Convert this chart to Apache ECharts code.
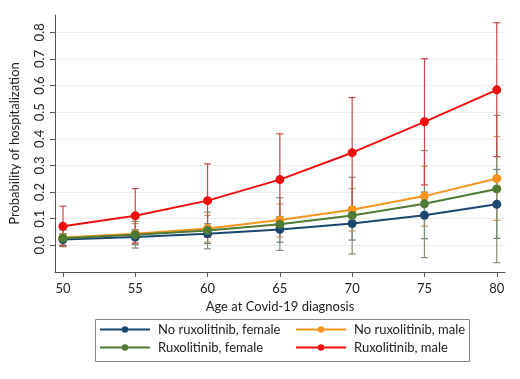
<!DOCTYPE html>
<html>
<head>
<meta charset="utf-8">
<script src="https://cdn.jsdelivr.net/npm/echarts@6/dist/echarts.min.js"></script>
<style>html,body{margin:0;padding:0;background:#fff}#c{width:520px;height:379px}</style>
</head>
<body>
<div id="c"></div>
<script>
// ---- data ----
var ages = [50, 55, 60, 65, 70, 75, 80];
var xTicks = [50, 55, 60, 65, 70, 75, 80];
var yTicks = [0, 0.1, 0.2, 0.3, 0.4, 0.5, 0.6, 0.7, 0.8];

var noRuxFemale     = [0.022, 0.031, 0.044, 0.060, 0.082, 0.113, 0.154];
var noRuxFemaleLow  = [0.000, 0.003, 0.007, 0.012, 0.020, 0.025, 0.026];
var noRuxFemaleHigh = [0.044, 0.059, 0.081, 0.108, 0.144, 0.200, 0.285];

var noRuxMale     = [0.030, 0.044, 0.063, 0.095, 0.134, 0.185, 0.251];
var noRuxMaleLow  = [0.003, 0.006, 0.013, 0.031, 0.054, 0.072, 0.094];
var noRuxMaleHigh = [0.057, 0.082, 0.113, 0.156, 0.213, 0.297, 0.408];

var ruxFemale     = [0.027, 0.040, 0.056, 0.079, 0.112, 0.156, 0.212];
var ruxFemaleLow  = [-0.005, -0.010, -0.013, -0.019, -0.032, -0.046, -0.065];
var ruxFemaleHigh = [0.059, 0.090, 0.125, 0.179, 0.256, 0.356, 0.488];

var ruxMale     = [0.072, 0.111, 0.168, 0.247, 0.348, 0.464, 0.584];
var ruxMaleLow  = [-0.003, 0.009, 0.030, 0.075, 0.141, 0.227, 0.333];
var ruxMaleHigh = [0.147, 0.213, 0.306, 0.419, 0.555, 0.701, 0.836];

var names = ['No ruxolitinib, female', 'No ruxolitinib, male', 'Ruxolitinib, female', 'Ruxolitinib, male'];
var colors = ['#1a476f', '#f7941d', '#4f7a34', '#f00f0f'];
var barColors = ['#5f7890', '#c99a6a', '#7f8f6f', '#c9474a'];

// ---- build ----
var FONT = 'Lato, "Open Sans", sans-serif';
function pairs(vals) { return ages.map(function (a, i) { return [a, vals[i]]; }); }
function triples(lo, hi) { return ages.map(function (a, i) { return [a, lo[i], hi[i]]; }); }

function errSeries(lo, hi, color) {
  return {
    type: 'custom', z: 1, silent: true,
    data: triples(lo, hi),
    encode: { x: 0, y: [1, 2] },
    renderItem: function (params, api) {
      var x = api.value(0);
      var pLo = api.coord([x, api.value(1)]);
      var pHi = api.coord([x, api.value(2)]);
      var hw = 3.5;
      var st = { stroke: color, lineWidth: 1.2 };
      return {
        type: 'group',
        children: [
          { type: 'line', shape: { x1: pLo[0], y1: pLo[1], x2: pHi[0], y2: pHi[1] }, style: st },
          { type: 'line', shape: { x1: pLo[0] - hw, y1: pLo[1], x2: pLo[0] + hw, y2: pLo[1] }, style: st },
          { type: 'line', shape: { x1: pHi[0] - hw, y1: pHi[1], x2: pHi[0] + hw, y2: pHi[1] }, style: st }
        ]
      };
    }
  };
}
function lineSeries(name, vals, color) {
  return {
    name: name, type: 'line', z: 3, data: pairs(vals),
    symbol: 'circle', symbolSize: 9, showSymbol: true,
    lineStyle: { color: color, width: 2 },
    itemStyle: { color: color },
    emphasis: { disabled: true }, animation: false
  };
}

var series = [
  errSeries(noRuxFemaleLow, noRuxFemaleHigh, barColors[0]),
  errSeries(noRuxMaleLow, noRuxMaleHigh, barColors[1]),
  errSeries(ruxFemaleLow, ruxFemaleHigh, barColors[2]),
  errSeries(ruxMaleLow, ruxMaleHigh, barColors[3]),
  lineSeries(names[0], noRuxFemale, colors[0]),
  lineSeries(names[1], noRuxMale, colors[1]),
  lineSeries(names[2], ruxFemale, colors[2]),
  lineSeries(names[3], ruxMale, colors[3])
];

var legendBase = {
  orient: 'vertical', top: 323, itemWidth: 50, itemHeight: 8, itemGap: 5,
  padding: 0, selectedMode: false,
  textStyle: { fontFamily: FONT, fontSize: 13, color: '#222', padding: [0, 0, 0, 3] }
};

var chart = echarts.init(document.getElementById('c'), null, { renderer: 'canvas' });
chart.setOption({
  backgroundColor: '#fff',
  animation: false,
  grid: { left: 55, right: 15, top: 15, bottom: 107, containLabel: false },
  xAxis: {
    type: 'value', min: 49.45, max: 80.57,
    name: 'Age at Covid-19 diagnosis', nameLocation: 'middle', nameGap: 23,
    nameTextStyle: { fontFamily: FONT, fontSize: 13, color: '#222' },
    axisLine: { show: true, onZero: false, lineStyle: { color: '#555', width: 1 } },
    axisTick: { show: true, length: 5, customValues: xTicks, lineStyle: { color: '#555' } },
    axisLabel: { customValues: xTicks, margin: 10, fontFamily: FONT, fontSize: 13, color: '#222' },
    splitLine: { show: false }
  },
  yAxis: {
    type: 'value', min: -0.1, max: 0.865,
    name: 'Probability of hospitalization', nameLocation: 'middle', nameGap: 34, nameRotate: 90,
    nameTextStyle: { fontFamily: FONT, fontSize: 13, color: '#222' },
    axisLine: { show: true, onZero: false, lineStyle: { color: '#555', width: 1 } },
    axisTick: { show: true, length: 5, customValues: yTicks, lineStyle: { color: '#555' } },
    axisLabel: {
      customValues: yTicks, margin: 9, rotate: 90, fontFamily: FONT, fontSize: 13, color: '#222',
      formatter: function (v) { return v.toFixed(1); }
    },
    splitLine: { show: true, lineStyle: { color: '#ececec', width: 1 } }
  },
  legend: [
    Object.assign({}, legendBase, { left: 99, data: [names[0], names[2]] }),
    Object.assign({}, legendBase, { left: 295, data: [names[1], names[3]] })
  ],
  graphic: [{
    type: 'rect', left: 93, top: 317, silent: true,
    shape: { width: 374, height: 42 },
    style: { fill: 'none', stroke: '#888', lineWidth: 1 }
  }],
  series: series
});
</script>
</body>
</html>
